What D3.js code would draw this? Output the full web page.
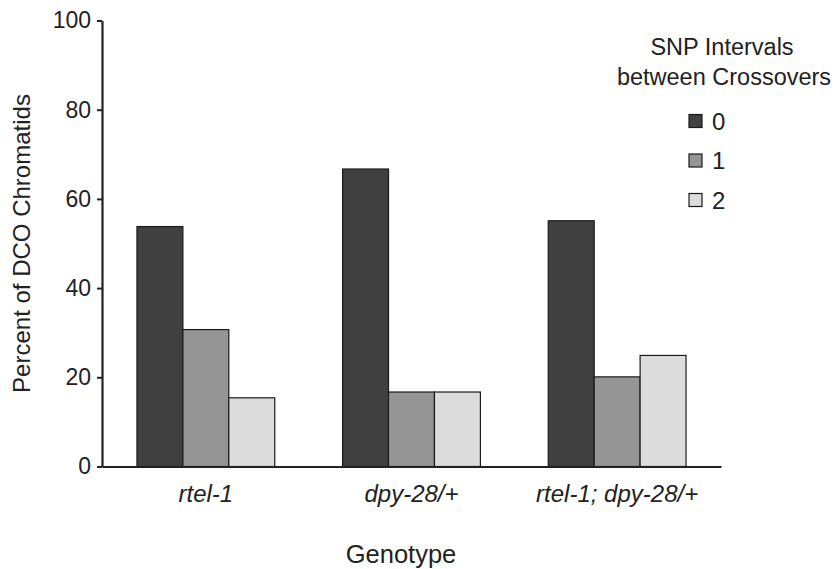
<!DOCTYPE html>
<html>
<head>
<meta charset="utf-8">
<script src="https://cdn.jsdelivr.net/npm/d3@7"></script>
<style>
  body { margin: 0; background: #fff; }
  svg { display: block; font-family: 'Liberation Sans', Arial, sans-serif; }
</style>
</head>
<body>
<svg id="chart" width="836" height="569"></svg>
<script>
// Chart data
const genotypes = ['rtel-1', 'dpy-28/+', 'rtel-1; dpy-28/+'];
const intervals = ['0', '1', '2'];
const zeroIntervals = [53.8, 66.7, 55.1];
const oneInterval = [30.7, 16.7, 20.1];
const twoIntervals = [15.4, 16.7, 24.9];
const yTicks = [0, 20, 40, 60, 80, 100];

const seriesValues = [zeroIntervals, oneInterval, twoIntervals];
const fills = ['#404040', '#959595', '#dcdcdc'];
const ink = '#222';
const fontFamily = "'Liberation Sans', Arial, sans-serif";

const svg = d3.select('#chart');
const padding = { top: 20.5, right: 115, bottom: 102.5, left: 102 };
const width = 836;
const height = 569;

const x = d3.scaleBand()
  .domain(genotypes)
  .range([padding.left, width - padding.right])
  .paddingInner(0.33)
  .paddingOuter(0.17);

const xInner = d3.scaleBand()
  .domain(intervals)
  .range([0, x.bandwidth()]);

const y = d3.scaleLinear()
  .domain([0, 100])
  .range([height - padding.bottom, padding.top]);

// Bars, one group per genotype
const rows = genotypes.map((g, i) => ({
  genotype: g,
  values: intervals.map((k, j) => ({ key: k, value: seriesValues[j][i], fill: fills[j] }))
}));

const groups = svg.append('g')
  .selectAll('g')
  .data(rows)
  .join('g')
  .attr('transform', d => `translate(${x(d.genotype)},0)`);

groups.selectAll('rect')
  .data(d => d.values)
  .join('rect')
  .attr('x', d => xInner(d.key))
  .attr('y', d => y(d.value))
  .attr('width', xInner.bandwidth())
  .attr('height', d => y(0) - y(d.value))
  .attr('fill', d => d.fill)
  .attr('stroke', '#1a1a1a')
  .attr('stroke-width', 1.2);

// Y axis
const yAxis = svg.append('g')
  .attr('transform', `translate(${padding.left},0)`)
  .call(d3.axisLeft(y).tickValues(yTicks).tickSize(5).tickSizeOuter(0).tickPadding(6));

yAxis.select('.domain').attr('stroke', ink).attr('stroke-width', 2.2);
yAxis.selectAll('.tick line').attr('stroke', ink).attr('stroke-width', 2);
yAxis.selectAll('.tick text')
  .attr('font-size', 23)
  .attr('font-family', fontFamily)
  .attr('fill', ink);

// X axis: plain baseline with italic genotype labels
const xAxis = svg.append('g')
  .attr('transform', `translate(0,${y(0)})`)
  .call(d3.axisBottom(x).tickSize(0).tickSizeOuter(0).tickPadding(18));

xAxis.select('.domain').attr('stroke', ink).attr('stroke-width', 2.2);
xAxis.selectAll('.tick text')
  .attr('font-size', 24)
  .attr('font-style', 'italic')
  .attr('font-family', fontFamily)
  .attr('fill', ink);

// Axis titles
svg.append('text')
  .attr('x', 401)
  .attr('y', 563)
  .attr('text-anchor', 'middle')
  .attr('font-size', 25.5)
  .attr('fill', ink)
  .text('Genotype');

svg.append('text')
  .attr('transform', `translate(30,${(y(0) + y(100)) / 2}) rotate(-90)`)
  .attr('text-anchor', 'middle')
  .attr('font-size', 24)
  .attr('fill', ink)
  .text('Percent of DCO Chromatids');

// Legend
const legend = svg.append('g');

legend.append('text')
  .attr('x', 722)
  .attr('y', 55)
  .attr('text-anchor', 'middle')
  .attr('font-size', 23.5)
  .attr('fill', ink)
  .text('SNP Intervals');

legend.append('text')
  .attr('x', 724)
  .attr('y', 85)
  .attr('text-anchor', 'middle')
  .attr('font-size', 23.5)
  .attr('fill', ink)
  .text('between Crossovers');

const legendY = d3.scalePoint().domain(intervals).range([121, 200]);

const items = legend.selectAll('g.item')
  .data(intervals)
  .join('g')
  .attr('class', 'item')
  .attr('transform', d => `translate(689,${legendY(d)})`);

items.append('rect')
  .attr('x', 0)
  .attr('y', -6.5)
  .attr('width', 13)
  .attr('height', 13)
  .attr('fill', (d, i) => fills[i])
  .attr('stroke', '#1a1a1a')
  .attr('stroke-width', 1.2);

items.append('text')
  .attr('x', 23)
  .attr('dy', '0.36em')
  .attr('font-size', 24)
  .attr('fill', ink)
  .text(d => d);
</script>
</body>
</html>
